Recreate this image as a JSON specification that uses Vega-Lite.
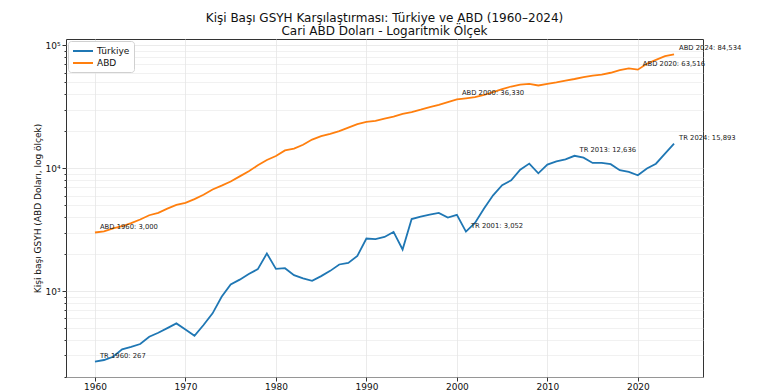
{
  "$schema": "https://vega.github.io/schema/vega-lite/v6.json",
  "width": 637,
  "height": 338,
  "autosize": "none",
  "padding": {"left": 66, "top": 39, "right": 64, "bottom": 14},
  "background": "white",
  "title": {
    "text": ["Kişi Başı GSYH Karşılaştırması: Türkiye ve ABD (1960–2024)", "Cari ABD Doları - Logaritmik Ölçek"],
    "font": "DejaVu Sans",
    "fontSize": 12,
    "fontWeight": "normal",
    "color": "#111",
    "anchor": "middle",
    "offset": 1,
    "lineHeight": 13
  },
  "datasets": {
    "gdp": [
      {"year": 1960, "country": "Türkiye", "value": 267},
      {"year": 1961, "country": "Türkiye", "value": 275},
      {"year": 1962, "country": "Türkiye", "value": 292},
      {"year": 1963, "country": "Türkiye", "value": 336},
      {"year": 1964, "country": "Türkiye", "value": 352},
      {"year": 1965, "country": "Türkiye", "value": 371},
      {"year": 1966, "country": "Türkiye", "value": 425},
      {"year": 1967, "country": "Türkiye", "value": 458},
      {"year": 1968, "country": "Türkiye", "value": 500},
      {"year": 1969, "country": "Türkiye", "value": 546},
      {"year": 1970, "country": "Türkiye", "value": 488},
      {"year": 1971, "country": "Türkiye", "value": 433},
      {"year": 1972, "country": "Türkiye", "value": 530},
      {"year": 1973, "country": "Türkiye", "value": 659},
      {"year": 1974, "country": "Türkiye", "value": 900},
      {"year": 1975, "country": "Türkiye", "value": 1132},
      {"year": 1976, "country": "Türkiye", "value": 1240},
      {"year": 1977, "country": "Türkiye", "value": 1380},
      {"year": 1978, "country": "Türkiye", "value": 1510},
      {"year": 1979, "country": "Türkiye", "value": 2026},
      {"year": 1980, "country": "Türkiye", "value": 1518},
      {"year": 1981, "country": "Türkiye", "value": 1537},
      {"year": 1982, "country": "Türkiye", "value": 1349},
      {"year": 1983, "country": "Türkiye", "value": 1268},
      {"year": 1984, "country": "Türkiye", "value": 1213},
      {"year": 1985, "country": "Türkiye", "value": 1325},
      {"year": 1986, "country": "Türkiye", "value": 1462},
      {"year": 1987, "country": "Türkiye", "value": 1648},
      {"year": 1988, "country": "Türkiye", "value": 1699},
      {"year": 1989, "country": "Türkiye", "value": 1937},
      {"year": 1990, "country": "Türkiye", "value": 2682},
      {"year": 1991, "country": "Türkiye", "value": 2648},
      {"year": 1992, "country": "Türkiye", "value": 2762},
      {"year": 1993, "country": "Türkiye", "value": 3034},
      {"year": 1994, "country": "Türkiye", "value": 2183},
      {"year": 1995, "country": "Türkiye", "value": 3860},
      {"year": 1996, "country": "Türkiye", "value": 4045},
      {"year": 1997, "country": "Türkiye", "value": 4200},
      {"year": 1998, "country": "Türkiye", "value": 4330},
      {"year": 1999, "country": "Türkiye", "value": 3972},
      {"year": 2000, "country": "Türkiye", "value": 4171},
      {"year": 2001, "country": "Türkiye", "value": 3052},
      {"year": 2002, "country": "Türkiye", "value": 3589},
      {"year": 2003, "country": "Türkiye", "value": 4702},
      {"year": 2004, "country": "Türkiye", "value": 6025},
      {"year": 2005, "country": "Türkiye", "value": 7273},
      {"year": 2006, "country": "Türkiye", "value": 7985},
      {"year": 2007, "country": "Türkiye", "value": 9750},
      {"year": 2008, "country": "Türkiye", "value": 10915},
      {"year": 2009, "country": "Türkiye", "value": 9100},
      {"year": 2010, "country": "Türkiye", "value": 10718},
      {"year": 2011, "country": "Türkiye", "value": 11400},
      {"year": 2012, "country": "Türkiye", "value": 11830},
      {"year": 2013, "country": "Türkiye", "value": 12636},
      {"year": 2014, "country": "Türkiye", "value": 12210},
      {"year": 2015, "country": "Türkiye", "value": 11050},
      {"year": 2016, "country": "Türkiye", "value": 11050},
      {"year": 2017, "country": "Türkiye", "value": 10790},
      {"year": 2018, "country": "Türkiye", "value": 9640},
      {"year": 2019, "country": "Türkiye", "value": 9340},
      {"year": 2020, "country": "Türkiye", "value": 8770},
      {"year": 2021, "country": "Türkiye", "value": 9950},
      {"year": 2022, "country": "Türkiye", "value": 10900},
      {"year": 2023, "country": "Türkiye", "value": 13180},
      {"year": 2024, "country": "Türkiye", "value": 15893},
      {"year": 1960, "country": "ABD", "value": 3000},
      {"year": 1961, "country": "ABD", "value": 3067},
      {"year": 1962, "country": "ABD", "value": 3244},
      {"year": 1963, "country": "ABD", "value": 3375},
      {"year": 1964, "country": "ABD", "value": 3574},
      {"year": 1965, "country": "ABD", "value": 3828},
      {"year": 1966, "country": "ABD", "value": 4146},
      {"year": 1967, "country": "ABD", "value": 4336},
      {"year": 1968, "country": "ABD", "value": 4696},
      {"year": 1969, "country": "ABD", "value": 5032},
      {"year": 1970, "country": "ABD", "value": 5234},
      {"year": 1971, "country": "ABD", "value": 5609},
      {"year": 1972, "country": "ABD", "value": 6094},
      {"year": 1973, "country": "ABD", "value": 6726},
      {"year": 1974, "country": "ABD", "value": 7226},
      {"year": 1975, "country": "ABD", "value": 7801},
      {"year": 1976, "country": "ABD", "value": 8592},
      {"year": 1977, "country": "ABD", "value": 9453},
      {"year": 1978, "country": "ABD", "value": 10565},
      {"year": 1979, "country": "ABD", "value": 11674},
      {"year": 1980, "country": "ABD", "value": 12575},
      {"year": 1981, "country": "ABD", "value": 13976},
      {"year": 1982, "country": "ABD", "value": 14434},
      {"year": 1983, "country": "ABD", "value": 15544},
      {"year": 1984, "country": "ABD", "value": 17121},
      {"year": 1985, "country": "ABD", "value": 18237},
      {"year": 1986, "country": "ABD", "value": 19071},
      {"year": 1987, "country": "ABD", "value": 20039},
      {"year": 1988, "country": "ABD", "value": 21417},
      {"year": 1989, "country": "ABD", "value": 22857},
      {"year": 1990, "country": "ABD", "value": 23889},
      {"year": 1991, "country": "ABD", "value": 24342},
      {"year": 1992, "country": "ABD", "value": 25419},
      {"year": 1993, "country": "ABD", "value": 26387},
      {"year": 1994, "country": "ABD", "value": 27695},
      {"year": 1995, "country": "ABD", "value": 28691},
      {"year": 1996, "country": "ABD", "value": 29968},
      {"year": 1997, "country": "ABD", "value": 31459},
      {"year": 1998, "country": "ABD", "value": 32854},
      {"year": 1999, "country": "ABD", "value": 34515},
      {"year": 2000, "country": "ABD", "value": 36330},
      {"year": 2001, "country": "ABD", "value": 37134},
      {"year": 2002, "country": "ABD", "value": 37998},
      {"year": 2003, "country": "ABD", "value": 39490},
      {"year": 2004, "country": "ABD", "value": 41725},
      {"year": 2005, "country": "ABD", "value": 44123},
      {"year": 2006, "country": "ABD", "value": 46302},
      {"year": 2007, "country": "ABD", "value": 48050},
      {"year": 2008, "country": "ABD", "value": 48570},
      {"year": 2009, "country": "ABD", "value": 47195},
      {"year": 2010, "country": "ABD", "value": 48651},
      {"year": 2011, "country": "ABD", "value": 50066},
      {"year": 2012, "country": "ABD", "value": 51784},
      {"year": 2013, "country": "ABD", "value": 53291},
      {"year": 2014, "country": "ABD", "value": 55124},
      {"year": 2015, "country": "ABD", "value": 56763},
      {"year": 2016, "country": "ABD", "value": 57867},
      {"year": 2017, "country": "ABD", "value": 59915},
      {"year": 2018, "country": "ABD", "value": 62805},
      {"year": 2019, "country": "ABD", "value": 65095},
      {"year": 2020, "country": "ABD", "value": 63516},
      {"year": 2021, "country": "ABD", "value": 70996},
      {"year": 2022, "country": "ABD", "value": 76399},
      {"year": 2023, "country": "ABD", "value": 81695},
      {"year": 2024, "country": "ABD", "value": 84534}
    ],
    "notes": [
      {"year": 1960, "value": 267, "label": "TR 1960: 267"},
      {"year": 2001, "value": 3052, "label": "TR 2001: 3,052"},
      {"year": 2013, "value": 12636, "label": "TR 2013: 12,636"},
      {"year": 2024, "value": 15893, "label": "TR 2024: 15,893"},
      {"year": 1960, "value": 3000, "label": "ABD 1960: 3,000"},
      {"year": 2000, "value": 36330, "label": "ABD 2000: 36,330"},
      {"year": 2020, "value": 63516, "label": "ABD 2020: 63,516"},
      {"year": 2024, "value": 84534, "label": "ABD 2024: 84,534"}
    ]
  },
  "layer": [
    {
      "data": {"name": "gdp"},
      "mark": {"type": "line", "strokeWidth": 1.8, "clip": true},
      "encoding": {
        "x": {
          "field": "year",
          "type": "quantitative",
          "scale": {"domain": [1956.8, 2027.2], "nice": false, "zero": false},
          "axis": {
            "values": [1960, 1970, 1980, 1990, 2000, 2010, 2020],
            "format": "d",
            "title": null,
            "labelPadding": 1
          }
        },
        "y": {
          "field": "value",
          "type": "quantitative",
          "scale": {"type": "log", "domain": [200, 112800], "nice": false},
          "axis": {
            "values": [200, 300, 400, 500, 600, 700, 800, 900, 1000, 2000, 3000, 4000, 5000, 6000, 7000, 8000, 9000, 10000, 20000, 30000, 40000, 50000, 60000, 70000, 80000, 90000, 100000],
            "labelExpr": "datum.value == 1000 ? '10³' : datum.value == 10000 ? '10⁴' : datum.value == 100000 ? '10⁵' : ''",
            "tickSize": {"condition": {"test": "datum.value == 1000 || datum.value == 10000 || datum.value == 100000", "value": 4}, "value": 2},
            "gridOpacity": {"condition": {"test": "datum.value == 1000 || datum.value == 10000 || datum.value == 100000", "value": 1}, "value": 0.7},
            "title": "Kişi başı GSYH (ABD Doları, log ölçek)",
            "titlePadding": 2
          }
        },
        "color": {
          "field": "country",
          "type": "nominal",
          "scale": {"domain": ["Türkiye", "ABD"], "range": ["#1f77b4", "#ff7f0e"]},
          "legend": {
            "title": null,
            "orient": "top-left",
            "offset": 2,
            "symbolType": "M-2,0L2,0",
            "symbolSize": 100,
            "symbolOffset": 5,
            "symbolStrokeWidth": 2,
            "labelFont": "DejaVu Sans",
            "labelFontSize": 9,
            "labelColor": "#111",
            "labelOffset": 8,
            "padding": 4,
            "rowPadding": 1,
            "fillColor": "white",
            "strokeColor": "#d0d0d0",
            "cornerRadius": 3
          }
        }
      }
    },
    {
      "data": {"name": "notes"},
      "mark": {"type": "text", "align": "left", "baseline": "alphabetic", "dx": 5, "dy": -4, "font": "DejaVu Sans", "fontSize": 6.8, "color": "#222"},
      "encoding": {
        "x": {"field": "year", "type": "quantitative"},
        "y": {"field": "value", "type": "quantitative"},
        "text": {"field": "label", "type": "nominal"}
      }
    }
  ],
  "config": {
    "view": {"stroke": "#333", "strokeWidth": 1},
    "axis": {
      "domain": false,
      "grid": true,
      "gridColor": "#e6e6e6",
      "gridWidth": 0.8,
      "tickColor": "#333",
      "tickSize": 4,
      "labelFont": "DejaVu Sans",
      "labelFontSize": 9,
      "labelColor": "#111",
      "labelPadding": 2,
      "titleFont": "DejaVu Sans",
      "titleFontSize": 9,
      "titleFontWeight": "normal",
      "titleColor": "#111"
    }
  }
}
